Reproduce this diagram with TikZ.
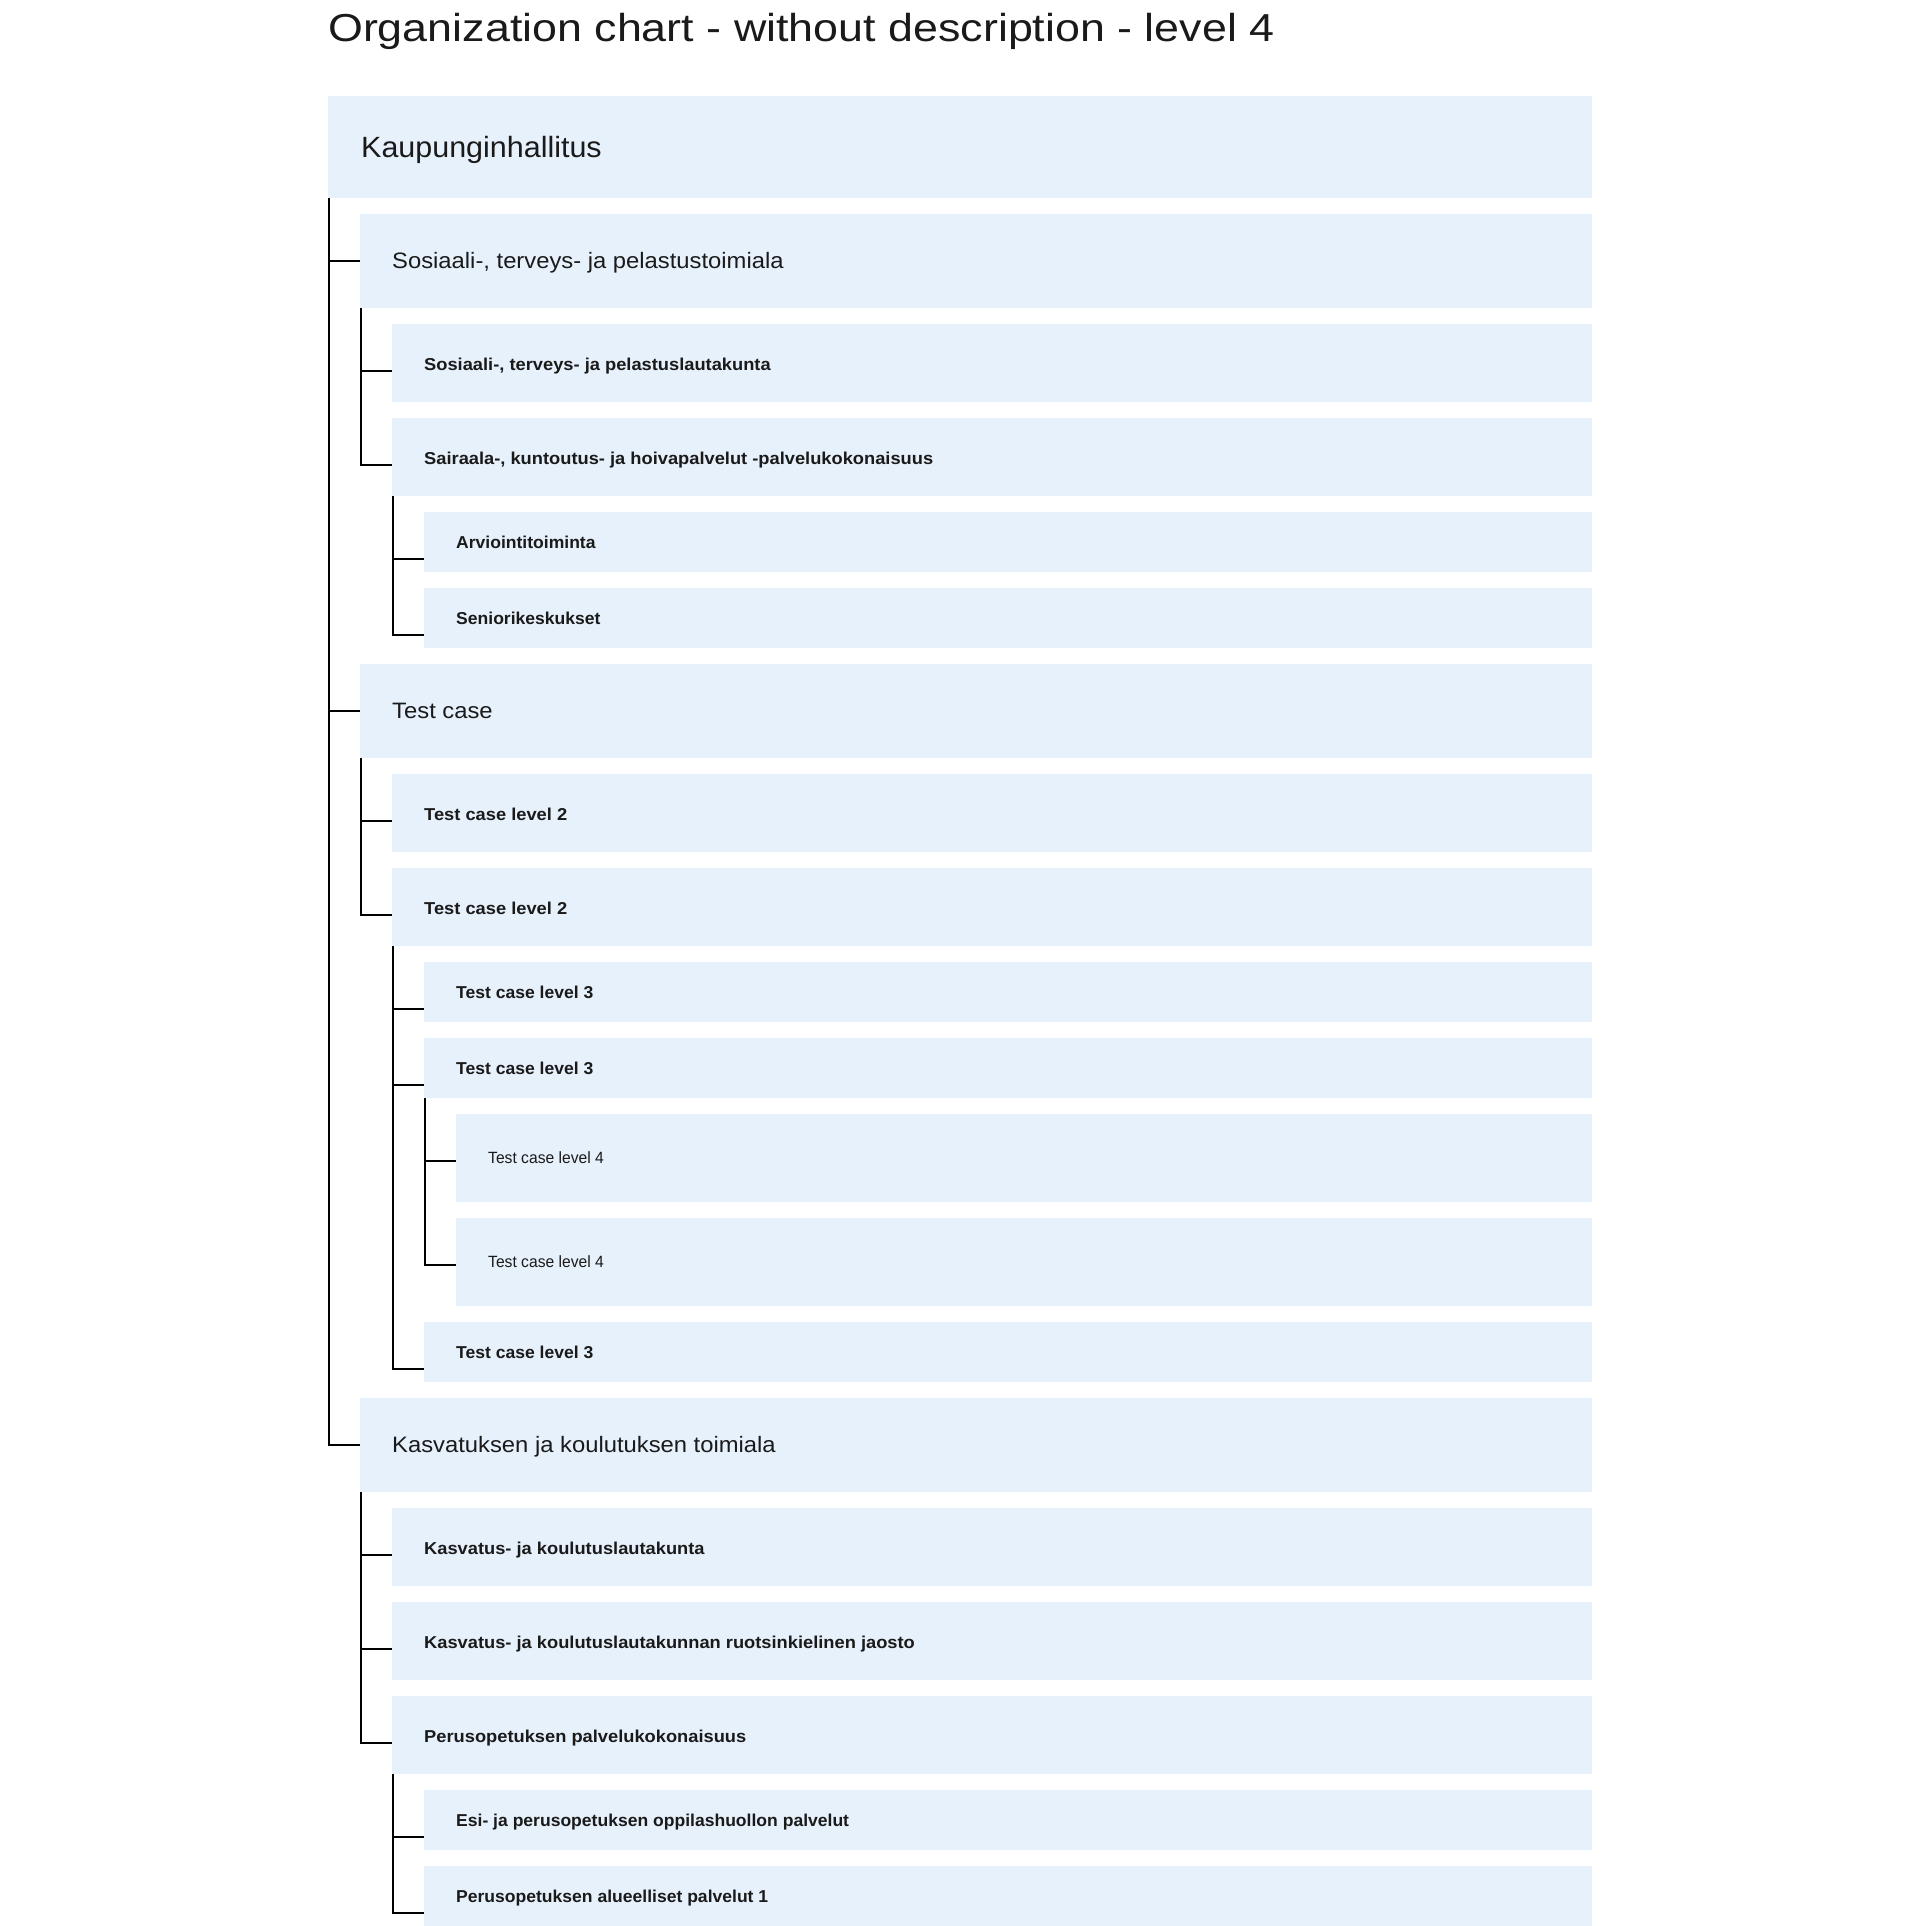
\documentclass[tikz,border=0pt]{standalone}
\usepackage{fontspec}
\setmainfont{Liberation Sans}
\newfontfamily\fttl[FakeStretch=1.149]{Liberation Sans}
\newfontfamily\fzero[FakeStretch=1.04]{Liberation Sans}
\newfontfamily\fone[FakeStretch=1.067]{Liberation Sans}
\newfontfamily\ftwo[FakeStretch=1.063]{Liberation Sans}
\newfontfamily\fthree[FakeStretch=1.02]{Liberation Sans}
\newfontfamily\ffour[FakeStretch=0.96]{Liberation Sans}
\definecolor{boxblue}{HTML}{E7F1FB}
\definecolor{ink}{HTML}{1A1A1A}
\begin{document}
\begin{tikzpicture}[x=1pt,y=-1pt,
  box/.style={fill=boxblue, draw=none, anchor=north west, inner sep=0pt, minimum width={1592pt-#1pt}},
  b0/.style={box=328, minimum height=102pt},
  b1/.style={box=360, minimum height=94pt},
  b2/.style={box=392, minimum height=78pt},
  b3/.style={box=424, minimum height=60pt},
  b4/.style={box=456, minimum height=88pt},
  txt/.style={anchor=base west, inner sep=0pt, text=ink},
  ttl/.style={txt, font=\fttl\fontsize{39}{40}\selectfont},
  t0/.style={txt, font=\fzero\fontsize{29.3}{30}\selectfont},
  t1/.style={txt, font=\fone\fontsize{22.3}{24}\selectfont},
  t2/.style={txt, font=\ftwo\bfseries\fontsize{17.2}{20}\selectfont},
  t3/.style={txt, font=\fthree\bfseries\fontsize{17.2}{20}\selectfont},
  t4/.style={txt, font=\ffour\fontsize{16.3}{18}\selectfont},
  conn/.style={line width=2pt, draw=black}
]
\useasboundingbox (0,0) rectangle (1920,1926);

\node[ttl] (title) at (328,42) {Organization chart - without description - level 4};

% boxes
\node[b0] (n0) at (328,96) {};
\node[b1] (n1) at (360,214) {};
\node[b2] (n2) at (392,324) {};
\node[b2] (n3) at (392,418) {};
\node[b3] (n4) at (424,512) {};
\node[b3] (n5) at (424,588) {};
\node[b1] (n6) at (360,664) {};
\node[b2] (n7) at (392,774) {};
\node[b2] (n8) at (392,868) {};
\node[b3] (n9) at (424,962) {};
\node[b3] (n10) at (424,1038) {};
\node[b4] (n11) at (456,1114) {};
\node[b4] (n12) at (456,1218) {};
\node[b3] (n13) at (424,1322) {};
\node[b1] (n14) at (360,1398) {};
\node[b2] (n15) at (392,1508) {};
\node[b2] (n16) at (392,1602) {};
\node[b2] (n17) at (392,1696) {};
\node[b3] (n18) at (424,1790) {};
\node[b3] (n19) at (424,1866) {};

% texts
\node[t0] (l0) at ([xshift=33pt,yshift=-62pt]n0.north west) {Kaupunginhallitus};
\node[t1] (l1) at ([xshift=32pt,yshift=-54.5pt]n1.north west) {Sosiaali-, terveys- ja pelastustoimiala};
\node[t2] (l2) at ([xshift=32pt,yshift=-46.3pt]n2.north west) {Sosiaali-, terveys- ja pelastuslautakunta};
\node[t2] (l3) at ([xshift=32pt,yshift=-46.3pt]n3.north west) {Sairaala-, kuntoutus- ja hoivapalvelut -palvelukokonaisuus};
\node[t3] (l4) at ([xshift=32pt,yshift=-36.3pt]n4.north west) {Arviointitoiminta};
\node[t3] (l5) at ([xshift=32pt,yshift=-36.3pt]n5.north west) {Seniorikeskukset};
\node[t1] (l6) at ([xshift=32pt,yshift=-54.5pt]n6.north west) {Test case};
\node[t2] (l7) at ([xshift=32pt,yshift=-46.3pt]n7.north west) {Test case level 2};
\node[t2] (l8) at ([xshift=32pt,yshift=-46.3pt]n8.north west) {Test case level 2};
\node[t3] (l9) at ([xshift=32pt,yshift=-36.3pt]n9.north west) {Test case level 3};
\node[t3] (l10) at ([xshift=32pt,yshift=-36.3pt]n10.north west) {Test case level 3};
\node[t4] (l11) at ([xshift=32pt,yshift=-49.3pt]n11.north west) {Test case level 4};
\node[t4] (l12) at ([xshift=32pt,yshift=-49.3pt]n12.north west) {Test case level 4};
\node[t3] (l13) at ([xshift=32pt,yshift=-36.3pt]n13.north west) {Test case level 3};
\node[t1] (l14) at ([xshift=32pt,yshift=-54.5pt]n14.north west) {Kasvatuksen ja koulutuksen toimiala};
\node[t2] (l15) at ([xshift=32pt,yshift=-46.3pt]n15.north west) {Kasvatus- ja koulutuslautakunta};
\node[t2] (l16) at ([xshift=32pt,yshift=-46.3pt]n16.north west) {Kasvatus- ja koulutuslautakunnan ruotsinkielinen jaosto};
\node[t2] (l17) at ([xshift=32pt,yshift=-46.3pt]n17.north west) {Perusopetuksen palvelukokonaisuus};
\node[t3] (l18) at ([xshift=32pt,yshift=-36.3pt]n18.north west) {Esi- ja perusopetuksen oppilashuollon palvelut};
\node[t3] (l19) at ([xshift=32pt,yshift=-36.3pt]n19.north west) {Perusopetuksen alueelliset palvelut 1};

% connectors
\foreach \p/\c in {n0/n1, n0/n6, n0/n14,
                   n1/n2, n1/n3, n3/n4, n3/n5,
                   n6/n7, n6/n8, n8/n9, n8/n10, n8/n13, n10/n11, n10/n12,
                   n14/n15, n14/n16, n14/n17, n17/n18, n17/n19}
  \draw[conn] ([xshift=1pt]\p.south west) |- ([yshift=-47pt]\c.north west);
\end{tikzpicture}
\end{document}
